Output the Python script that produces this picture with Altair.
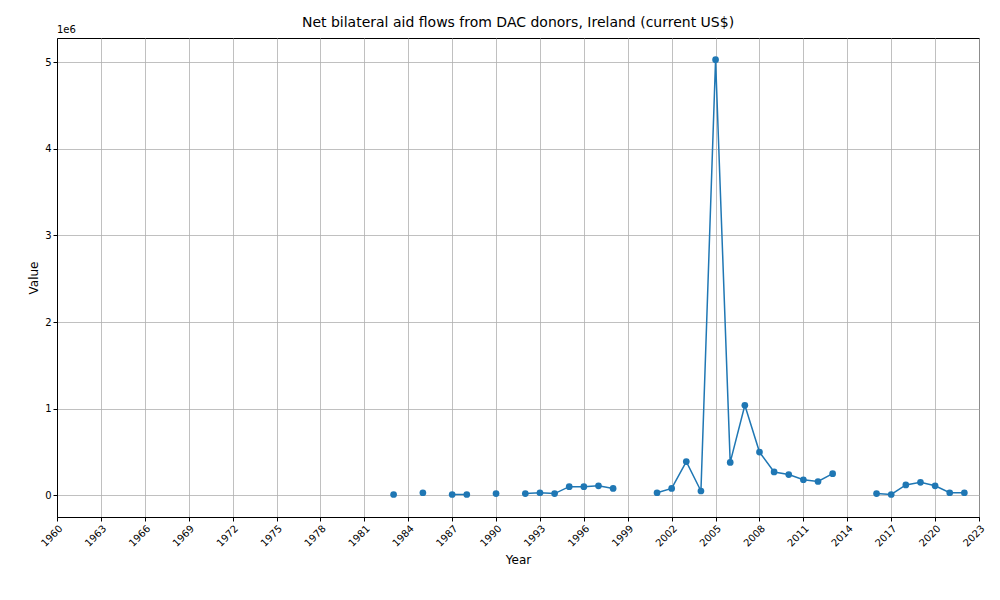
import altair as alt
import pandas as pd

years = [1983, 1985, 1987, 1988, 1990, 1992, 1993, 1994, 1995, 1996, 1997, 1998,
         2001, 2002, 2003, 2004, 2005, 2006, 2007, 2008, 2009, 2010, 2011, 2012, 2013,
         2016, 2017, 2018, 2019, 2020, 2021, 2022]
values = [10000, 30000, 10000, 10000, 20000, 20000, 30000, 20000, 100000, 100000, 110000, 80000,
          30000, 80000, 390000, 50000, 5030000, 380000, 1040000, 500000, 270000, 240000, 180000, 160000, 250000,
          20000, 10000, 120000, 150000, 110000, 30000, 30000]

# consecutive years form one line segment, gaps break the line
seg, s = [], 0
for i, y in enumerate(years):
    if i > 0 and y - years[i - 1] > 1:
        s += 1
    seg.append(s)
df = pd.DataFrame({"Year": years, "Value": values, "seg": seg})

blue = "#1f77b4"
x = alt.X("Year:Q", scale=alt.Scale(domain=[1960, 2023], nice=False, zero=False),
          axis=alt.Axis(values=list(range(1960, 2024, 3)), labelAngle=-45, format="d",
                        labelAlign="right", labelBaseline="top", title="Year", titlePadding=6))
y = alt.Y("Value:Q", scale=alt.Scale(domain=[-250000, 5280000], nice=False),
          axis=alt.Axis(values=[0, 1e6, 2e6, 3e6, 4e6, 5e6], labelExpr="datum.value / 1e6",
                        title="Value"))

base = alt.Chart(df)
lines = base.mark_line(color=blue, strokeWidth=1.5).encode(x=x, y=y, detail="seg:N")
pts = base.mark_circle(color=blue, size=45, opacity=1).encode(x=x, y=y)
offset = alt.Chart(pd.DataFrame({"t": ["1e6"]})).mark_text(
    align="left", baseline="bottom", fontSize=10, font="DejaVu Sans", color="black"
).encode(x=alt.value(0), y=alt.value(-3), text="t:N")

chart = (lines + pts + offset).properties(
    width=922, height=479,
    title=alt.Title("Net bilateral aid flows from DAC donors, Ireland (current US$)",
                    fontSize=14, fontWeight="normal", font="DejaVu Sans", offset=-5),
    autosize=alt.AutoSizeParams(type="none"),
    padding={"left": 49, "top": 30, "right": 13, "bottom": 75},
).configure_axis(
    grid=True, gridColor="#b0b0b0", gridWidth=0.8,
    domainColor="black", tickColor="black", tickSize=4,
    labelFont="DejaVu Sans", labelFontSize=10, labelColor="black",
    titleFont="DejaVu Sans", titleFontSize=12, titleFontWeight="normal", titleColor="black",
).configure_view(stroke="black", strokeWidth=1)

chart.save("out.html", embed_options={"renderer": "svg", "actions": False})
